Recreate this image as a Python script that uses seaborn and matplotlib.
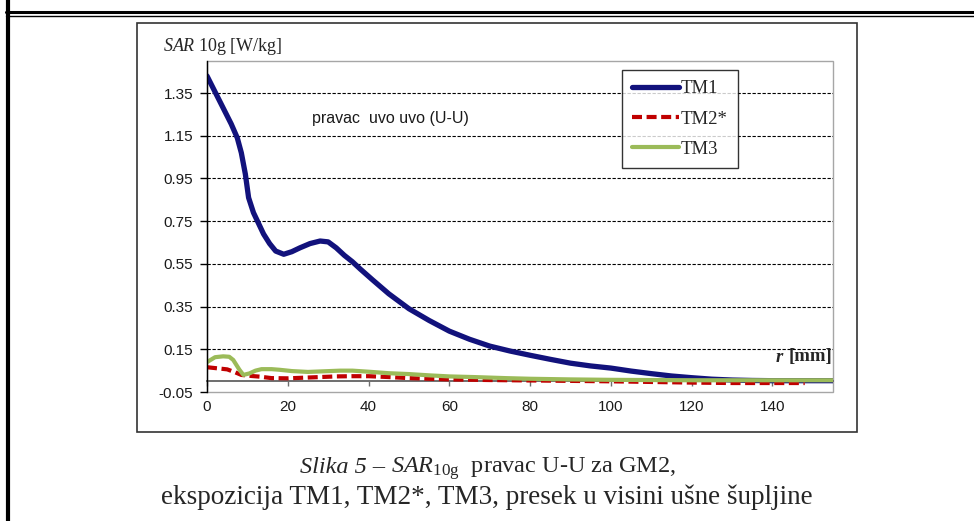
import matplotlib
matplotlib.use('Agg')
import matplotlib.pyplot as plt
import seaborn as sns
from matplotlib.patches import Rectangle
from matplotlib.lines import Line2D

# SAR 10g [W/kg] along the U-U line
tm1_r = [0, 2, 4, 6, 7.5, 8.5, 9.5, 10.3, 11.5, 12.5, 14, 15.5, 17, 19, 21, 23,
         25.5, 28, 30, 32, 34, 36, 38, 41, 45, 50, 55, 60, 65, 70, 75, 80, 85,
         90, 95, 100, 105, 110, 115, 120, 125, 130, 135, 140, 145, 150, 155]
tm1_sar = [1.43, 1.355, 1.28, 1.205, 1.14, 1.07, 0.97, 0.86, 0.79, 0.75, 0.69,
           0.645, 0.61, 0.595, 0.607, 0.625, 0.645, 0.657, 0.653, 0.625, 0.59,
           0.56, 0.525, 0.475, 0.41, 0.34, 0.285, 0.235, 0.197, 0.165, 0.142,
           0.122, 0.103, 0.085, 0.072, 0.062, 0.048, 0.036, 0.025, 0.017, 0.010,
           0.006, 0.004, 0.003, 0.003, 0.003, 0.003]

tm2_r = [0, 3, 5, 7, 8.5, 11, 13, 16, 20, 24, 28, 32, 36, 40, 45, 50, 55, 60,
         70, 80, 90, 100, 110, 120, 130, 140, 148]
tm2_sar = [0.066, 0.06, 0.056, 0.042, 0.03, 0.025, 0.022, 0.015, 0.014, 0.017,
           0.02, 0.023, 0.024, 0.024, 0.02, 0.015, 0.012, 0.009, 0.006, 0.004,
           0.002, 0.0, -0.003, -0.006, -0.008, -0.008, -0.008]

tm3_r = [0, 2, 4, 5.5, 6.5, 8, 9, 10.5, 12, 13.5, 16, 18, 21, 25, 29, 33, 36,
         40, 45, 50, 55, 60, 66, 74, 80, 90, 100, 110, 120, 130, 140, 155]
tm3_sar = [0.09, 0.113, 0.117, 0.115, 0.1, 0.055, 0.03, 0.037, 0.05, 0.057,
           0.057, 0.054, 0.048, 0.044, 0.047, 0.05, 0.05, 0.045, 0.038, 0.034,
           0.028, 0.023, 0.02, 0.015, 0.012, 0.009, 0.007, 0.006, 0.005, 0.005,
           0.005, 0.005]

y_ticks = [-0.05, 0.15, 0.35, 0.55, 0.75, 0.95, 1.15, 1.35]
x_ticks = [0, 20, 40, 60, 80, 100, 120, 140]

sns.set_style('white')
plt.rcParams['font.family'] = ['Liberation Sans', 'DejaVu Sans']
plt.rcParams['mathtext.fontset'] = 'custom'
plt.rcParams['mathtext.rm'] = 'Liberation Serif'
plt.rcParams['mathtext.it'] = 'Liberation Serif:italic'
plt.rcParams['mathtext.bf'] = 'Liberation Serif:bold'

fig = plt.figure(figsize=(9.74, 5.21), dpi=100)
W, H = 974, 521
ax = fig.add_axes([207 / W, 1 - 392 / H, (833 - 207) / W, (392 - 61) / H])

sns.lineplot(x=tm1_r, y=tm1_sar, ax=ax, color='#12127c', lw=3.8,
             label='TM1', sort=False)
sns.lineplot(x=tm2_r, y=tm2_sar, ax=ax, color='#c00000', lw=3,
             linestyle=(0, (2.4, 1.1)), label='TM2*', sort=False)
sns.lineplot(x=tm3_r, y=tm3_sar, ax=ax, color='#9bbb59', lw=3,
             label='TM3', sort=False)

ax.set_xlim(0, 155)
ax.set_ylim(-0.05, 1.5)
ax.set_xlabel('')
ax.set_ylabel('')

# dashed gridlines
ax.hlines(y_ticks[1:], 0, 1, transform=ax.get_yaxis_transform(),
          colors='black', linestyles=(0, (3, 1.5)), lw=0.8, zorder=0.5)

ax.set_yticks(y_ticks)
ax.set_yticklabels([f'{v:.2f}' for v in y_ticks])
ax.set_xticks(x_ticks)
ax.set_xticklabels([str(v) for v in x_ticks])

# plot area border (light gray), category axis crossing at zero
ax.patch.set_edgecolor('#a6a6a6')
ax.patch.set_linewidth(1.0)
for s in ['top', 'right']:
    ax.spines[s].set_visible(False)
ax.spines['left'].set_color('black')
ax.spines['left'].set_linewidth(1.0)
ax.spines['bottom'].set_position(('data', 0))
ax.spines['bottom'].set_color('#6e6e6e')
ax.spines['bottom'].set_linewidth(1.4)
ax.spines['bottom'].set_zorder(1)

ax.tick_params(axis='y', direction='out', length=5, width=1, color='black',
               pad=5, labelsize=11, labelcolor='#1a1a1a', left=True)
ax.tick_params(axis='x', direction='out', length=3.6, width=1, color='#6e6e6e',
               pad=10, labelsize=11, labelcolor='#1a1a1a', bottom=True)

leg = ax.legend(loc='upper left', bbox_to_anchor=(622 / W, 1 - 70 / H),
                bbox_transform=fig.transFigure, frameon=True, fancybox=False,
                edgecolor='black', borderaxespad=0,
                prop={'family': 'Liberation Serif', 'size': 13.5},
                handlelength=2.5, handletextpad=0.1, labelspacing=0.7,
                borderpad=0.55)
leg.get_frame().set_linewidth(1.0)

ax.text((312 - 207) / 626, (392 - 118) / 331, 'pravac  uvo uvo (U-U)',
        transform=ax.transAxes, fontsize=11.5, color='#1a1a1a', va='center')

t_mm = ax.text((832 - 207) / 626, (392 - 357) / 331, '[mm]', transform=ax.transAxes,
               family='Liberation Serif', weight='bold', fontsize=13.5,
               ha='right', va='center')
ax.annotate('r ', xy=(0, 0.5), xycoords=t_mm, ha='right', va='center',
            family='Liberation Serif', weight='bold', style='italic', fontsize=13.5)

fig.text(163 / W, 1 - 51 / H, r'$\mathit{SAR}$ 10g [W/kg]',
         family='Liberation Serif', fontsize=13, va='baseline')

# chart frame
fig.patches.append(Rectangle((137 / W, 1 - 432 / H), 720 / W, 409 / H,
                             transform=fig.transFigure, fill=False,
                             ec='#333333', lw=1.2))

# page borders
fig.add_artist(Line2D([8 / W, 8 / W], [0, 1], transform=fig.transFigure,
                      color='black', lw=3))
fig.add_artist(Line2D([6 / W, 1], [1 - 11.5 / H, 1 - 11.5 / H],
                      transform=fig.transFigure, color='black', lw=2.2))
fig.add_artist(Line2D([6 / W, 1], [1 - 15.5 / H, 1 - 15.5 / H],
                      transform=fig.transFigure, color='black', lw=1.0))

# caption, first line built from pieces so "Slika 5 –" stays italic
fig.canvas.draw()
renderer = fig.canvas.get_renderer()
y1 = 1 - 473 / H
t1 = fig.text(300 / W, y1, 'Slika 5 – ', family='Liberation Serif',
              style='italic', fontsize=17.5, va='baseline')
x_next = t1.get_window_extent(renderer).x1 / W
fig.text(x_next, y1, r'$\mathit{SAR}_{\mathrm{10g}}$  pravac U-U za GM2,',
         family='Liberation Serif', fontsize=17.5, va='baseline')
fig.text(0.5, 1 - 504 / H, 'ekspozicija TM1, TM2*, TM3, presek u visini ušne šupljine',
         family='Liberation Serif', fontsize=19.5, ha='center', va='baseline')

fig.savefig('out.png', dpi=100)
